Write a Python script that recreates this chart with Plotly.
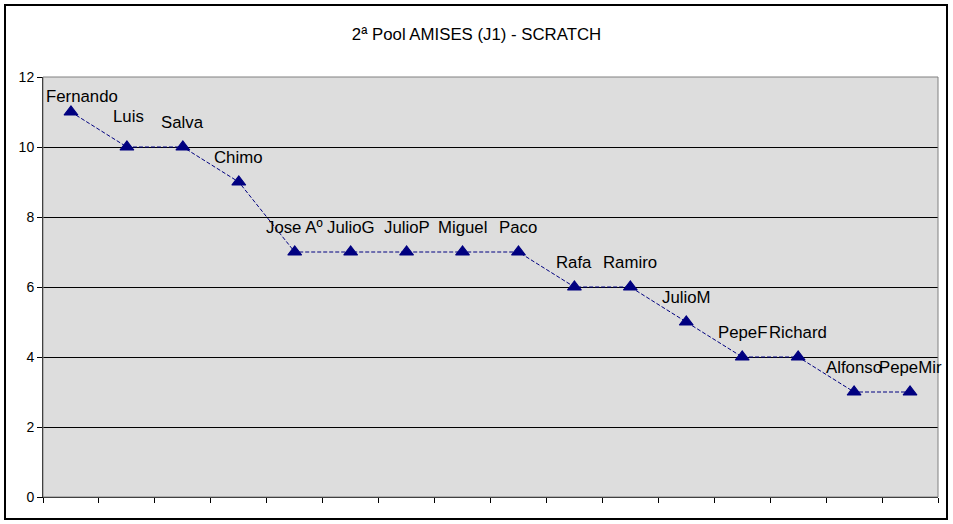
import plotly.graph_objects as go

names = ["Fernando", "Luis", "Salva", "Chimo", "Jose Aº", "JulioG", "JulioP", "Miguel",
         "Paco", "Rafa", "Ramiro", "JulioM", "PepeF", "Richard", "Alfonso", "PepeMir"]
scores = [11, 10, 10, 9, 7, 7, 7, 7, 7, 6, 6, 5, 4, 4, 3, 3]
y_ticks = [0, 2, 4, 6, 8, 10, 12]

title_text = "2ª Pool AMISES (J1) - SCRATCH"

NAVY = "#000080"
FONT = "Liberation Sans, Arial, sans-serif"

x_idx = list(range(len(names)))

fig = go.Figure()
fig.add_trace(go.Scatter(
    x=x_idx, y=scores, mode="lines+markers",
    line=dict(color=NAVY, width=1, dash="4px,2px"),
    marker=dict(symbol="triangle-up", size=12, color=NAVY, line=dict(color=NAVY, width=1.2)),
    hoverinfo="skip", showlegend=False,
))

# label offsets (style only)
label_shift = {0: (11, 16), 1: (2, 31)}
for i, (n, v) in enumerate(zip(names, scores)):
    xs, ys = label_shift.get(i, (0, 25))
    fig.add_annotation(x=i, y=v, text=n, showarrow=False, xanchor="center", yanchor="middle",
                       xshift=xs, yshift=ys, font=dict(family=FONT, size=16.8, color="black"))

W, H = 953, 524
L, R, T, B = 43, 15, 77, 27
pw, ph = W - L - R, H - T - B

# plot area border (gray top/right)
fig.add_shape(type="rect", xref="paper", yref="paper", x0=0, x1=1, y0=0, y1=1,
              line=dict(color="#808080", width=1), layer="above")
# outer chart border
fig.add_shape(type="rect", xref="paper", yref="paper",
              x0=(5 - L) / pw, x1=(947 - L) / pw,
              y0=-(519 - (H - B)) / ph, y1=((H - B) - 5) / ph,
              line=dict(color="black", width=2), layer="above")

fig.update_layout(
    width=W, height=H,
    margin=dict(l=L, r=R, t=T, b=B, pad=0),
    paper_bgcolor="white", plot_bgcolor="#DDDDDD",
    title=dict(text=title_text, x=0.5, xanchor="center", y=1 - 34 / H, yanchor="middle",
               yref="container", font=dict(family=FONT, size=16.8, color="black")),
    xaxis=dict(range=[-0.5, len(names) - 0.5], tickmode="linear", tick0=-0.5, dtick=1,
               showticklabels=False, ticks="outside", ticklen=5, tickcolor="black",
               showgrid=False, zeroline=False, showline=True, linecolor="black", linewidth=1),
    yaxis=dict(range=[0, 12], tickvals=y_ticks, ticks="outside", ticklen=5, tickcolor="black",
               showgrid=True, gridcolor="black", gridwidth=1, zeroline=False,
               showline=True, linecolor="black", linewidth=1,
               tickfont=dict(family=FONT, size=14, color="black")),
    font=dict(family=FONT, color="black"),
)

fig.write_html("out.html", config={"displayModeBar": False, "staticPlot": True},
               post_script="document.body.style.margin='0';document.body.style.overflow='hidden';")
